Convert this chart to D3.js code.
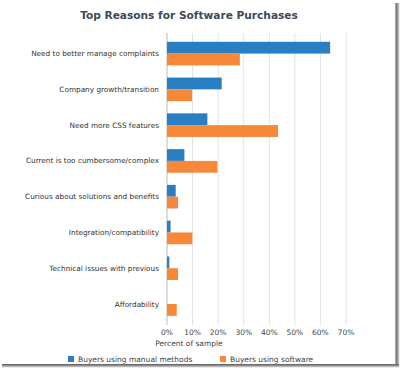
<!DOCTYPE html>
<html>
<head>
<meta charset="utf-8">
<script src="https://cdn.jsdelivr.net/npm/d3@7"></script>
<style>
  body { margin: 0; background: #fff; }
  text { font-family: "DejaVu Sans", Verdana, sans-serif; }
  .cat { font-size: 7.3px; fill: #333; }
  .tick-lbl { font-size: 7.5px; fill: #444; }
  .title { font-size: 10.6px; font-weight: bold; fill: #3b4a5c; }
</style>
</head>
<body>
<div id="chart"></div>
<script>
var width = 401, height = 370;

// data
var reasons = ["Need to better manage complaints", "Company growth/transition",
  "Need more CSS features", "Current is too cumbersome/complex",
  "Curious about solutions and benefits", "Integration/compatibility",
  "Technical issues with previous", "Affordability"];
var manual = [63.8, 21.4, 15.8, 6.8, 3.4, 1.4, 0.9, 0];
var software = [28.5, 9.8, 43.4, 19.7, 4.3, 9.9, 4.3, 3.8];
var ticks = [0, 10, 20, 30, 40, 50, 60, 70];
var seriesNames = ["Buyers using manual methods", "Buyers using software"];
var colors = ["#2a7fc2", "#f7883a"];

var svg = d3.select("#chart").append("svg")
  .attr("width", width)
  .attr("height", height);

// drop shadow frame (right + bottom)
var defs = svg.append("defs");
var gr = defs.append("linearGradient").attr("id", "shR").attr("x1", 0).attr("x2", 1).attr("y1", 0).attr("y2", 0);
gr.append("stop").attr("offset", "0%").attr("stop-color", "#555");
gr.append("stop").attr("offset", "100%").attr("stop-color", "#ddd");
var gb = defs.append("linearGradient").attr("id", "shB").attr("x1", 0).attr("x2", 0).attr("y1", 0).attr("y2", 1);
gb.append("stop").attr("offset", "0%").attr("stop-color", "#555");
gb.append("stop").attr("offset", "100%").attr("stop-color", "#ddd");

svg.append("rect").attr("x", 395.5).attr("y", 3).attr("width", 4).attr("height", 364).attr("fill", "url(#shR)");
svg.append("rect").attr("x", 2).attr("y", 364).attr("width", 397).attr("height", 3.5).attr("fill", "url(#shB)");

var x = d3.scaleLinear().domain([0, 70]).range([167, 346]);
var y = d3.scaleBand().domain(reasons).range([35, 322.6]).paddingInner(0.34).paddingOuter(0.19);
var y1 = d3.scaleBand().domain([0, 1]).range([0, y.bandwidth()]);

// title
svg.append("text").attr("class", "title")
  .attr("x", 189).attr("y", 19)
  .attr("text-anchor", "middle")
  .text("Top Reasons for Software Purchases");

// gridlines
svg.append("g").selectAll("line").data(ticks).enter().append("line")
  .attr("x1", function(d){ return x(d); })
  .attr("x2", function(d){ return x(d); })
  .attr("y1", 33).attr("y2", 325)
  .attr("stroke", function(d){ return d === 0 ? "#bbb" : "#e2e2e2"; })
  .attr("stroke-width", 1);

// tick labels
svg.append("g").selectAll("text").data(ticks).enter().append("text")
  .attr("class", "tick-lbl")
  .attr("x", function(d){ return x(d); })
  .attr("y", 334.5)
  .attr("text-anchor", "middle")
  .text(function(d){ return d + "%"; });

svg.append("text").attr("class", "tick-lbl")
  .attr("x", 189).attr("y", 346)
  .attr("text-anchor", "middle")
  .text("Percent of sample");

// category labels
svg.append("g").selectAll("text").data(reasons).enter().append("text")
  .attr("class", "cat")
  .attr("x", 159)
  .attr("y", function(d){ return y(d) + y.bandwidth() / 2; })
  .attr("dy", "0.35em")
  .attr("text-anchor", "end")
  .text(function(d){ return d; });

// bars
[manual, software].forEach(function(vals, s) {
  svg.append("g").selectAll("rect").data(vals).enter().append("rect")
    .attr("x", x(0))
    .attr("y", function(d, i){ return y(reasons[i]) + y1(s); })
    .attr("width", function(d){ return x(d) - x(0); })
    .attr("height", y1.bandwidth())
    .attr("fill", colors[s]);
});

// legend
var legX = [68, 220];
seriesNames.forEach(function(name, s) {
  svg.append("rect")
    .attr("x", legX[s]).attr("y", 356)
    .attr("width", 6).attr("height", 6)
    .attr("fill", colors[s]);
  svg.append("text").attr("class", "tick-lbl")
    .attr("x", legX[s] + 10).attr("y", 361.5)
    .text(name);
});
</script>
</body>
</html>
